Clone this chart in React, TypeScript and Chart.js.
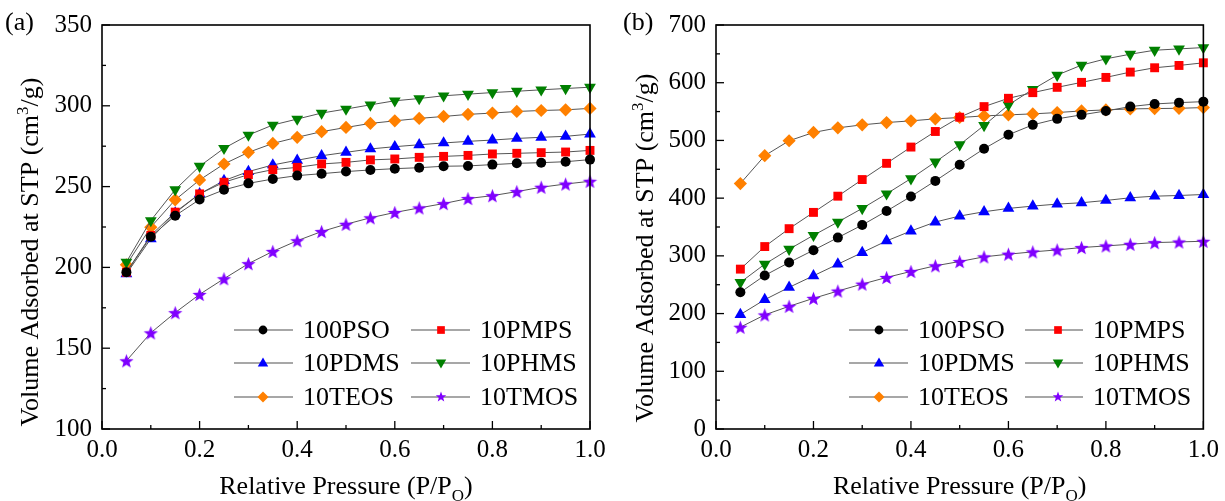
import React, { useEffect, useRef } from 'react';
import { Chart, registerables } from 'chart.js';

Chart.register(...registerables);

// ---------- data ----------
const pressure = [0.05, 0.1, 0.15, 0.2, 0.25, 0.3, 0.35, 0.4, 0.45, 0.5, 0.55, 0.6, 0.65, 0.7, 0.75, 0.8, 0.85, 0.9, 0.95, 1.0];

const seriesNames = ['100PSO', '10PMPS', '10PDMS', '10PHMS', '10TEOS', '10TMOS'];
const seriesColors = ['#000000', '#FF0000', '#0000FF', '#008000', '#FF8000', '#8000FF'];

// panel (a)
const psoA = [197, 219, 232, 242, 248, 252, 254.7, 256.8, 258, 259.3, 260.3, 261.1, 261.7, 262.6, 262.8, 263.6, 264.4, 264.8, 265.4, 266.7];
const pmpsA = [197, 219.8, 234.2, 245.5, 252.7, 257.4, 260.5, 261.9, 264, 265, 266.5, 267.1, 268.1, 268.7, 269.3, 270.2, 270.6, 271, 271.4, 272.4];
const pdmsA = [196, 217.7, 233.7, 245.5, 253.7, 259.3, 263.4, 266.3, 269.1, 271.2, 273.3, 274.7, 275.9, 277, 278, 278.8, 279.8, 280.5, 281.1, 282.5];
const phmsA = [203.3, 229, 248.1, 262.6, 273.7, 281.9, 288.1, 291.8, 295.5, 298, 300.6, 303.1, 304.5, 306.2, 307.2, 308.2, 309, 309.9, 310.7, 311.5];
const teosA = [201.6, 224.9, 241.8, 254.1, 264, 271.2, 276.7, 280.5, 284, 286.6, 289.1, 290.7, 292.2, 293.4, 294.7, 295.5, 296.5, 297.1, 297.5, 298.4];
const tmosA = [142.2, 159.5, 172, 183.3, 193, 202.3, 209.9, 216.5, 222.2, 226.7, 230.7, 234, 236.8, 239.5, 242.6, 244.4, 246.9, 249.6, 251.6, 253.3];

// panel (b)
const psoB = [236.8, 266.1, 288.5, 309.8, 331.6, 353.4, 377.6, 402.9, 429.9, 458, 485.6, 509.8, 527, 537.4, 544.3, 551.1, 558.6, 563.2, 565.5, 567.2];
const pmpsB = [277, 316.1, 347.1, 375.3, 403.4, 432.2, 460.3, 488.5, 515.5, 540.2, 558.6, 573, 582.8, 592, 600.6, 609.2, 618.4, 625.9, 629.9, 634.5];
const pdmsB = [198.3, 224.1, 245.4, 265.5, 285.6, 305.7, 325.9, 343.1, 358.6, 369, 376.4, 382.2, 386.2, 389.7, 392, 396, 400.6, 403.4, 404.6, 406.3];
const phmsB = [254, 285.6, 311.5, 335.6, 358.6, 382.2, 407.5, 433.9, 462.6, 492.5, 525.9, 561.5, 588.5, 613.2, 630.5, 641.4, 649.4, 656.3, 658.6, 660.9];
const teosB = [425.3, 473.6, 499.4, 513.8, 521.8, 527, 531, 533.9, 537.4, 539.7, 542.5, 544.3, 546, 548.3, 551.1, 552.9, 554.6, 555.2, 555.7, 556.9];
const tmosB = [176.4, 197.7, 212.6, 226.4, 239.1, 251.1, 262.6, 273, 282.8, 290.2, 298.3, 302.9, 306.9, 310.3, 314.4, 317.2, 320.1, 323, 324.1, 325.3];

const xTicks = { min: 0, max: 1, major: 0.2, minor: 0.1 };
const yTicksA = { min: 100, max: 350, major: 50, minor: 25 };
const yTicksB = { min: 0, max: 700, major: 100, minor: 50 };

const xTitleMain = 'Relative Pressure (P/P';
const xTitleSub = 'O';
const xTitleEnd = ')';
const yTitleMain = 'Volume Adsorbed at STP (cm';
const yTitleSup = '3';
const yTitleEnd = '/g)';

// ---------- styling ----------
const FONT = '"Liberation Serif", "Times New Roman", serif';
const LINE_COLOR = '#555555';
const markerKinds = ['circle', 'square', 'up', 'down', 'diamond', 'star'];

function starPath(ctx: CanvasRenderingContext2D, cx: number, cy: number, ro: number, ri: number) {
  ctx.beginPath();
  for (let i = 0; i < 10; i++) {
    const r = i % 2 === 0 ? ro : ri;
    const a = -Math.PI / 2 + (i * Math.PI) / 5;
    const px = cx + r * Math.cos(a);
    const py = cy + r * Math.sin(a);
    if (i === 0) ctx.moveTo(px, py);
    else ctx.lineTo(px, py);
  }
  ctx.closePath();
}

function makeStarImage(color: string, ro: number) {
  const size = Math.ceil(ro * 2 + 2);
  const c = document.createElement('canvas');
  c.width = size;
  c.height = size;
  const ctx = c.getContext('2d')!;
  ctx.fillStyle = color;
  starPath(ctx, size / 2, size / 2 + ro * 0.1, ro, ro * 0.42);
  ctx.fill();
  return c;
}

function drawMarker(ctx: CanvasRenderingContext2D, kind: string, x: number, y: number, s: number, color: string) {
  ctx.save();
  ctx.fillStyle = color;
  ctx.beginPath();
  if (kind === 'circle') {
    ctx.arc(x, y, s * 0.8, 0, Math.PI * 2);
  } else if (kind === 'square') {
    ctx.rect(x - s * 0.7, y - s * 0.7, s * 1.4, s * 1.4);
  } else if (kind === 'up') {
    ctx.moveTo(x, y - s);
    ctx.lineTo(x + s * 0.95, y + s * 0.65);
    ctx.lineTo(x - s * 0.95, y + s * 0.65);
    ctx.closePath();
  } else if (kind === 'down') {
    ctx.moveTo(x, y + s);
    ctx.lineTo(x + s * 0.95, y - s * 0.65);
    ctx.lineTo(x - s * 0.95, y - s * 0.65);
    ctx.closePath();
  } else if (kind === 'diamond') {
    ctx.moveTo(x, y - s);
    ctx.lineTo(x + s, y);
    ctx.lineTo(x, y + s);
    ctx.lineTo(x - s, y);
    ctx.closePath();
  } else if (kind === 'star') {
    starPath(ctx, x, y, s, s * 0.42);
  }
  ctx.fill();
  ctx.restore();
}

type PanelLayout = {
  label: string;
  labelX: number;
  yTitleX: number;
  yTitleY: number;
  legendCols: { lineL: number; lineR: number; marker: number; text: number }[];
  legendRows: number[];
};

function decorPlugin(layout: PanelLayout, yt: { min: number; max: number; major: number; minor: number }) {
  return {
    id: 'decor' + layout.label,
    afterDraw(chart: any) {
      const ctx: CanvasRenderingContext2D = chart.ctx;
      const a = chart.chartArea;
      const xs = chart.scales.x;
      const ys = chart.scales.y;
      ctx.save();
      // frame
      ctx.strokeStyle = '#000';
      ctx.lineWidth = 1.6;
      ctx.strokeRect(a.left, a.top, a.right - a.left, a.bottom - a.top);
      // x ticks (inward)
      ctx.lineWidth = 1.3;
      const nx = Math.round((xTicks.max - xTicks.min) / xTicks.minor);
      for (let i = 0; i <= nx; i++) {
        const v = xTicks.min + i * xTicks.minor;
        const px = xs.getPixelForValue(v);
        const isMajor = Math.abs(v / xTicks.major - Math.round(v / xTicks.major)) < 1e-6;
        const len = isMajor ? 8 : 4;
        ctx.beginPath();
        ctx.moveTo(px, a.bottom);
        ctx.lineTo(px, a.bottom - len);
        ctx.stroke();
      }
      // y ticks (inward)
      const ny = Math.round((yt.max - yt.min) / yt.minor);
      for (let i = 0; i <= ny; i++) {
        const v = yt.min + i * yt.minor;
        const py = ys.getPixelForValue(v);
        const isMajor = (v - yt.min) % yt.major === 0;
        const len = isMajor ? 8 : 4;
        ctx.beginPath();
        ctx.moveTo(a.left, py);
        ctx.lineTo(a.left + len, py);
        ctx.stroke();
      }
      // panel label
      ctx.fillStyle = '#000';
      ctx.textBaseline = 'alphabetic';
      ctx.textAlign = 'left';
      ctx.font = `26px ${FONT}`;
      ctx.fillText(layout.label, layout.labelX, 30);

      // x title with subscript
      const big = `26px ${FONT}`;
      const small = `17px ${FONT}`;
      ctx.font = big;
      const w1 = ctx.measureText(xTitleMain).width;
      const w3 = ctx.measureText(xTitleEnd).width;
      ctx.font = small;
      const w2 = ctx.measureText(xTitleSub).width;
      const total = w1 + w2 + w3;
      let sx = (a.left + a.right) / 2 - total / 2;
      const base = 494;
      ctx.font = big;
      ctx.fillText(xTitleMain, sx, base);
      sx += w1;
      ctx.font = small;
      ctx.fillText(xTitleSub, sx, base + 7);
      sx += w2;
      ctx.font = big;
      ctx.fillText(xTitleEnd, sx, base);

      // y title with superscript, rotated
      ctx.save();
      ctx.translate(layout.yTitleX, layout.yTitleY);
      ctx.rotate(-Math.PI / 2);
      ctx.font = big;
      const t1 = ctx.measureText(yTitleMain).width;
      const t3 = ctx.measureText(yTitleEnd).width;
      ctx.font = small;
      const t2 = ctx.measureText(yTitleSup).width;
      let ty = -(t1 + t2 + t3) / 2;
      ctx.font = big;
      ctx.fillText(yTitleMain, ty, 0);
      ty += t1;
      ctx.font = small;
      ctx.fillText(yTitleSup, ty, -10);
      ty += t2;
      ctx.font = big;
      ctx.fillText(yTitleEnd, ty, 0);
      ctx.restore();

      // legend: 2 columns x 3 rows
      ctx.font = `26px ${FONT}`;
      ctx.textBaseline = 'middle';
      for (let i = 0; i < seriesNames.length; i++) {
        const col = layout.legendCols[i % 2];
        const row = layout.legendRows[Math.floor(i / 2)];
        ctx.strokeStyle = '#8a8a8a';
        ctx.lineWidth = 1.3;
        ctx.beginPath();
        ctx.moveTo(col.lineL, row);
        ctx.lineTo(col.lineR, row);
        ctx.stroke();
        drawMarker(ctx, markerKinds[i], col.marker, row, 5.5, seriesColors[i]);
        ctx.fillStyle = '#000';
        ctx.fillText(seriesNames[i], col.text, row + 1);
      }
      ctx.restore();
    },
  };
}

function buildConfig(
  series: number[][],
  yt: { min: number; max: number; major: number; minor: number },
  yWidth: number,
  padRight: number,
  layout: PanelLayout,
  star: HTMLCanvasElement
) {
  const styles: any[] = [
    { pointStyle: 'circle', radius: 5, rotation: 0 },
    { pointStyle: 'rect', radius: 6.3, rotation: 0 },
    { pointStyle: 'triangle', radius: 6.8, rotation: 0 },
    { pointStyle: 'triangle', radius: 6.8, rotation: 180 },
    { pointStyle: 'rectRot', radius: 6.6, rotation: 0 },
    { pointStyle: star, radius: 7, rotation: 0 },
  ];
  return {
    type: 'line' as const,
    data: {
      datasets: series.map((vals, i) => ({
        label: seriesNames[i],
        data: pressure.map((x, j) => ({ x, y: vals[j] })),
        borderColor: LINE_COLOR,
        borderWidth: 1,
        backgroundColor: seriesColors[i],
        pointBackgroundColor: seriesColors[i],
        pointBorderColor: seriesColors[i],
        pointBorderWidth: 0,
        pointStyle: styles[i].pointStyle,
        pointRadius: styles[i].radius,
        pointRotation: styles[i].rotation,
        pointHoverRadius: styles[i].radius,
        tension: 0,
        fill: false,
        clip: false as any,
      })),
    },
    options: {
      responsive: false,
      animation: false as const,
      events: [],
      layout: { padding: { left: 0, right: padRight, top: 24, bottom: 0 } },
      plugins: {
        legend: { display: false },
        tooltip: { enabled: false },
      },
      scales: {
        x: {
          type: 'linear' as const,
          min: xTicks.min,
          max: xTicks.max,
          afterFit: (s: any) => {
            s.height = 72;
          },
          grid: { display: false, drawTicks: false, tickLength: 0 },
          border: { display: false },
          ticks: {
            stepSize: xTicks.major,
            autoSkip: false,
            maxRotation: 0,
            padding: 6,
            color: '#000',
            font: { family: FONT, size: 25 },
            callback: (v: any) => Number(v).toFixed(1),
          },
        },
        y: {
          type: 'linear' as const,
          min: yt.min,
          max: yt.max,
          afterFit: (s: any) => {
            s.width = yWidth;
          },
          grid: { display: false, drawTicks: false, tickLength: 0 },
          border: { display: false },
          ticks: {
            stepSize: yt.major,
            autoSkip: false,
            padding: 10,
            color: '#000',
            font: { family: FONT, size: 25 },
          },
        },
      },
    },
    plugins: [decorPlugin(layout, yt)],
  };
}

const layoutA: PanelLayout = {
  label: '(a)',
  labelX: 5,
  yTitleX: 38,
  yTitleY: 252,
  legendCols: [
    { lineL: 234, lineR: 293, marker: 263, text: 303 },
    { lineL: 411, lineR: 470, marker: 441, text: 480 },
  ],
  legendRows: [330, 363, 397],
};

const layoutB: PanelLayout = {
  label: '(b)',
  labelX: 18,
  yTitleX: 48,
  yTitleY: 248,
  legendCols: [
    { lineL: 244, lineR: 303, marker: 274, text: 313 },
    { lineL: 420, lineR: 478, marker: 453, text: 488 },
  ],
  legendRows: [330, 363, 397],
};

function Panel(props: {
  series: number[][];
  yt: { min: number; max: number; major: number; minor: number };
  yWidth: number;
  padRight: number;
  width: number;
  left: number;
  layout: PanelLayout;
}) {
  const ref = useRef<HTMLCanvasElement | null>(null);
  useEffect(() => {
    if (!ref.current) return;
    const star = makeStarImage(seriesColors[5], 7.5);
    const chart = new Chart(
      ref.current,
      buildConfig(props.series, props.yt, props.yWidth, props.padRight, props.layout, star) as any
    );
    return () => chart.destroy();
  }, []);
  return (
    <canvas
      ref={ref}
      width={props.width}
      height={501}
      style={{ position: 'absolute', left: props.left, top: 0, width: props.width, height: 501, display: 'block' }}
    />
  );
}

export default function App() {
  return (
    <div style={{ position: 'absolute', left: 0, top: 0, width: 1225, height: 501, background: '#fff', overflow: 'hidden' }}>
      <Panel
        series={[psoA, pmpsA, pdmsA, phmsA, teosA, tmosA]}
        yt={yTicksA}
        yWidth={102}
        padRight={22}
        width={612}
        left={0}
        layout={layoutA}
      />
      <Panel
        series={[psoB, pmpsB, pdmsB, phmsB, teosB, tmosB]}
        yt={yTicksB}
        yWidth={111}
        padRight={21}
        width={620}
        left={605}
        layout={layoutB}
      />
    </div>
  );
}
